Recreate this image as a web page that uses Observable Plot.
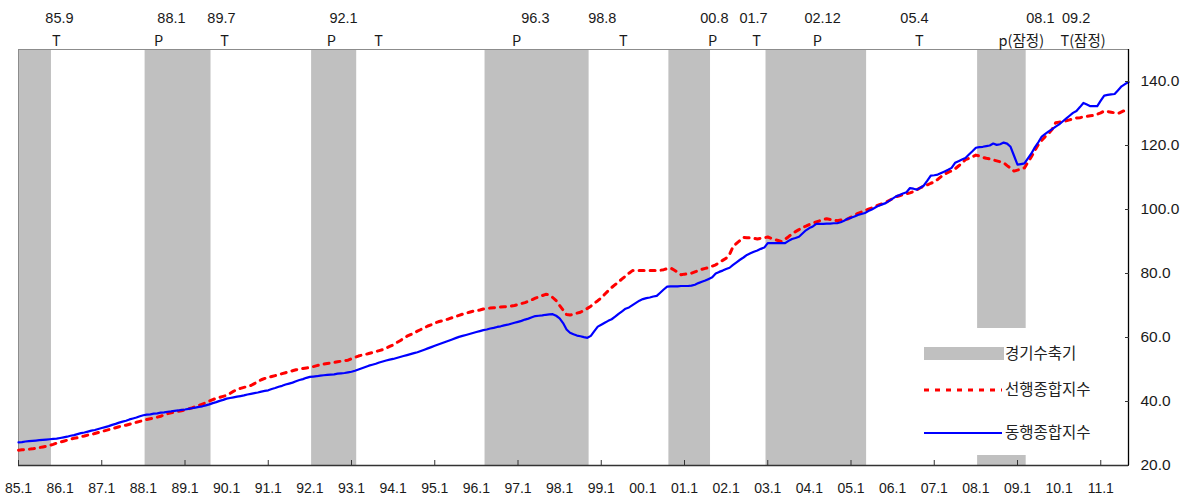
<!DOCTYPE html>
<html><head><meta charset="utf-8">
<script src="https://cdn.jsdelivr.net/npm/d3@7"></script>
<script src="https://cdn.jsdelivr.net/npm/@observablehq/plot@0.6"></script>
<style>
body{margin:0;background:#fff;font-family:"Liberation Sans","Noto Sans CJK KR",sans-serif}
#wrap{position:relative;width:1186px;height:497px}
#legend{position:absolute;left:912px;top:328px;width:208px;height:127px;background:#fff}
#legend svg{font-family:"Noto Sans CJK KR",sans-serif;font-size:15.5px;fill:#222}
</style></head><body><div id="wrap"><div id="legend"></div></div>
<script>
// ---- data ----
const years = [1985,1986,1987,1988,1989,1990,1991,1992,1993,1994,1995,1996,1997,1998,1999,2000,2001,2002,2003,2004,2005,2006,2007,2008,2009,2010,2011];
// 동행종합지수 (coincident composite index), monthly, one row per year
const coincident = [
[27.2,27.3,27.5,27.6,27.7,27.8,27.9,28.0,28.1,28.2,28.3,28.4],
[28.6,28.8,29.0,29.3,29.5,29.8,30.1,30.3,30.6,30.9,31.1,31.4],
[31.7,32.0,32.3,32.7,33.0,33.4,33.7,34.0,34.4,34.7,35.0,35.4],
[35.7,35.9,36.0,36.2,36.3,36.5,36.6,36.8,36.9,37.1,37.2,37.4],
[37.5,37.7,37.9,38.1,38.3,38.5,38.8,39.1,39.5,39.8,40.2,40.5],
[40.9,41.1,41.3,41.5,41.7,41.9,42.2,42.4,42.6,42.8,43.1,43.3],
[43.5,43.9,44.2,44.6,44.9,45.3,45.6,45.9,46.3,46.7,47.0,47.4],
[47.7,47.8,47.9,48.1,48.2,48.3,48.4,48.5,48.7,48.8,48.9,49.1],
[49.3,49.6,50.0,50.4,50.8,51.2,51.5,51.8,52.2,52.5,52.8,53.1],
[53.3,53.6,53.9,54.2,54.5,54.8,55.1,55.4,55.8,56.2,56.6,57.0],
[57.4,57.8,58.2,58.6,59.0,59.4,59.8,60.2,60.5,60.8,61.1,61.4],
[61.7,62.0,62.3,62.5,62.8,63.0,63.3,63.5,63.8,64.0,64.3,64.6],
[64.9,65.2,65.6,65.9,66.3,66.7,66.8,66.9,67.1,67.2,67.3,66.8],
[66.0,64.5,62.5,61.5,61.0,60.6,60.4,60.1,59.9,60.5,62.0,63.4],
[64.0,64.6,65.2,65.7,66.5,67.4,68.2,69.0,69.4,70.1,70.8,71.5],
[72.0,72.3,72.5,72.8,73.0,74.0,75.0,75.9,76.0,76.0,76.0,76.1],
[76.1,76.1,76.2,76.5,77.0,77.4,77.8,78.3,78.8,80.0,80.5,80.9],
[81.4,81.8,82.7,83.5,84.3,85.0,85.8,86.3,86.8,87.2,87.7,88.1],
[89.5,89.5,89.5,89.5,89.5,89.5,90.2,90.8,91.1,91.5,92.5,93.5],
[94.2,94.7,95.5,95.5,95.5,95.6,95.6,95.7,95.7,96.0,96.5,97.1],
[97.4,97.8,98.3,98.6,98.9,99.5,100.0,100.6,101.2,101.6,102.0,102.7],
[103.4,104.1,104.5,105.0,105.4,106.7,106.5,106.2,106.8,107.5,109.0,110.6],
[110.7,110.9,111.4,111.9,112.4,113.0,114.6,115.1,115.6,116.1,117.2,118.2],
[119.3,119.5,119.6,119.8,120.0,120.6,120.2,120.4,120.9,120.6,119.6,116.8],
[114.0,114.2,114.4,116.0,117.5,119.4,121.0,122.8,123.6,124.4,125.1,125.9],
[126.6,127.5,128.4,129.3,130.2,130.8,132.0,133.3,132.8,132.3,132.3,132.3],
[134.0,135.6,135.8,136.0,136.1,137.3,138.5,139.2,139.8]
];
// 선행종합지수 (leading composite index), monthly, one row per year
const leading = [
[24.8,24.9,25.0,25.1,25.2,25.4,25.6,25.8,26.0,26.3,26.6,27.0],
[27.3,27.6,27.9,28.2,28.5,28.7,29.0,29.2,29.5,29.7,30.0,30.3],
[30.6,30.9,31.2,31.5,31.8,32.1,32.4,32.6,32.9,33.2,33.5,33.8],
[34.1,34.4,34.6,34.8,35.1,35.4,35.8,36.2,36.5,36.7,36.9,37.1],
[37.4,37.7,38.0,38.4,38.8,39.2,39.6,40.1,40.6,41.0,41.3,41.6],
[41.9,42.5,43.2,43.8,44.1,44.4,44.7,45.0,45.6,46.2,46.8,47.2],
[47.5,47.8,48.1,48.4,48.7,49.0,49.3,49.6,49.9,50.1,50.3,50.5],
[50.6,50.9,51.2,51.5,51.7,51.9,52.0,52.2,52.4,52.6,52.8,52.9],
[53.4,53.8,54.2,54.5,54.7,55.0,55.3,55.6,55.9,56.2,56.7,57.2],
[57.7,58.4,59.0,59.7,60.4,60.9,61.4,62.0,62.5,63.0,63.6,64.0],
[64.5,64.9,65.2,65.5,65.8,66.2,66.5,66.9,67.3,67.6,67.9,68.2],
[68.4,68.6,68.9,69.1,69.2,69.3,69.4,69.5,69.6,69.7,69.8,70.0],
[70.3,70.6,70.9,71.3,71.8,72.3,72.7,73.1,73.5,73.3,72.5,71.5],
[70.0,68.6,67.2,67.0,67.3,67.6,67.9,68.5,69.1,69.8,70.7,71.5],
[72.4,73.5,74.6,75.6,76.5,77.4,78.3,79.2,80.1,80.9,80.9,80.9],
[80.9,80.9,80.9,80.9,80.9,81.0,81.2,81.5,81.7,81.1,80.4,79.6],
[79.8,79.9,80.1,80.5,80.9,81.3,81.6,81.9,82.3,82.7,83.4,84.1],
[84.8,86.0,88.4,89.4,90.3,91.3,91.2,91.1,91.0,90.8,91.0,91.2],
[91.4,91.0,90.6,90.3,90.0,90.7,91.5,92.4,93.1,93.7,94.4,94.8],
[95.3,95.7,96.1,96.5,96.9,97.1,96.9,96.7,96.5,96.7,96.8,97.0],
[97.6,98.2,98.8,99.2,99.7,100.1,100.5,101.0,101.4,101.8,102.2,102.8],
[103.4,104.0,104.3,104.6,104.9,105.2,105.6,106.2,106.8,107.3,107.7,108.2],
[108.6,109.4,110.3,111.1,111.6,112.1,112.7,113.6,114.5,115.6,116.0,116.5],
[117.0,116.7,116.3,116.0,115.8,115.5,115.2,114.9,114.6,113.7,112.9,112.0],
[112.3,112.6,113.0,114.8,116.5,118.4,120.3,121.6,122.8,123.8,125.1,127.1],
[127.3,127.5,127.7,128.0,128.3,128.6,128.7,128.9,129.1,129.3,129.4,129.8],
[130.2,130.8,130.6,130.4,130.2,130.0,130.5,131.0,131.5]
];
// business cycle turning points (yy.m) and their type
const turnDates = ["85.9","88.1","89.7","92.1","93.1","96.3","98.8","00.8","01.7","02.12","05.4","08.1","09.2"];
const turnTypes = ["T","P","T","P","T","P","T","P","T","P","T","p(잠정)","T(잠정)"];
const turnDateShown = [true,true,true,true,false,true,true,true,true,true,true,true,true];
// contraction periods (peak -> trough)
const contractionStart = ["84.12","88.1","92.1","96.3","00.8","02.12","08.1"];
const contractionEnd   = ["85.9","89.7","93.1","98.8","01.7","05.4","09.2"];
const yTicks = [20,40,60,80,100,120,140];
const legendLabels = ["경기수축기","선행종합지수","동행종합지수"];

// ---- annotation layout (month index where each label text sits) ----
const dateLabelAt = [11.8,44.1,58.5,93.7,null,149.0,168.3,200.6,211.9,231.8,258.3,294.6,304.9];
const turnLabelAt = [10.9,40.4,59.4,90.2,103.8,143.6,174.4,200.1,212.8,230.3,259.7,289.1,306.9];

// ---- build tables ----
const idx = s => { const [y, m] = s.split(".").map(Number); const yy = y < 50 ? 2000 + y : 1900 + y; return (yy - 1985) * 12 + (m - 1); };
const coinRows = [], leadRows = [];
years.forEach((y, i) => {
  coincident[i].forEach((v, j) => coinRows.push({m: i * 12 + j, v}));
  leading[i].forEach((v, j) => leadRows.push({m: i * 12 + j, v}));
});
const lastM = coinRows.length - 1;
const bands = contractionStart.map((s, i) => ({x1: idx(s) + 0.5, x2: idx(contractionEnd[i]) + 1.5}));
const dateLabels = turnDates.map((d, i) => ({at: dateLabelAt[i], text: d})).filter((d, i) => turnDateShown[i]);
const turnLabels = turnTypes.map((t, i) => ({at: turnLabelAt[i], text: t}));
const labelTicks = years.map((y, i) => i * 12);
const markTicks = labelTicks.filter((m, i) => i % 2 === 0);
const fmtYear = m => String(years[m / 12]).slice(2) + ".1";

const ink = "#1a1a1a";
const chart = Plot.plot({
  width: 1186, height: 497,
  marginLeft: 18, marginRight: 58, marginTop: 49, marginBottom: 32,
  x: {domain: [0, lastM]},
  y: {domain: [20, 150]},
  style: {fontFamily: '"Liberation Sans","Noto Sans CJK KR",sans-serif', color: ink, background: "#fff"},
  marks: [
    Plot.rect(bands, {x1: "x1", x2: "x2", fill: "#c0c0c0", clip: true}),
    Plot.frame({stroke: "#8c8c8c"}),
    Plot.line(leadRows, {x: "m", y: "v", stroke: "#ff0000", strokeWidth: 3, strokeDasharray: "5,6"}),
    Plot.line(coinRows, {x: "m", y: "v", stroke: "#0000ff", strokeWidth: 2.2}),
    Plot.ruleX([lastM], {stroke: "#000", strokeWidth: 1.3}),
    Plot.ruleY([20], {stroke: "#333", strokeWidth: 1.3}),
    Plot.axisX({ticks: markTicks, tickSize: -5, tickFormat: () => "", stroke: "#333", label: null}),
    Plot.axisX({ticks: labelTicks, tickSize: 0, tickPadding: 18, tickFormat: fmtYear, fontSize: 14, label: null}),
    Plot.axisY({anchor: "right", ticks: yTicks, tickSize: -4, tickFormat: () => "", stroke: "#333", label: null}),
    Plot.axisY({anchor: "right", ticks: yTicks, tickSize: 0, tickPadding: 12, tickFormat: d => d.toFixed(1), fontSize: 15.5, label: null}),
    Plot.text(dateLabels, {x: "at", text: "text", frameAnchor: "top", dy: -37, fontSize: 14.5, fill: ink}),
    Plot.text(turnLabels, {x: "at", text: "text", frameAnchor: "top", dy: -14, fontSize: 14.5, fill: ink, fontFamily: '"Noto Sans CJK KR","Liberation Sans",sans-serif'})
  ]
});
document.getElementById("wrap").prepend(chart);

// ---- legend ----
const lg = d3.select("#legend").append("svg").attr("width", 208).attr("height", 127);
lg.append("rect").attr("x", 12).attr("y", 19).attr("width", 80).attr("height", 13).attr("fill", "#c0c0c0");
lg.append("line").attr("x1", 12).attr("x2", 90).attr("y1", 62).attr("y2", 62).attr("stroke", "#ff0000").attr("stroke-width", 3).attr("stroke-dasharray", "5,6");
lg.append("line").attr("x1", 12).attr("x2", 90).attr("y1", 105).attr("y2", 105).attr("stroke", "#0000ff").attr("stroke-width", 2);
[25.5, 62, 105].forEach((y, i) => lg.append("text").attr("x", 93).attr("y", y).attr("dy", "0.35em").text(legendLabels[i]));
</script>
</body></html>
